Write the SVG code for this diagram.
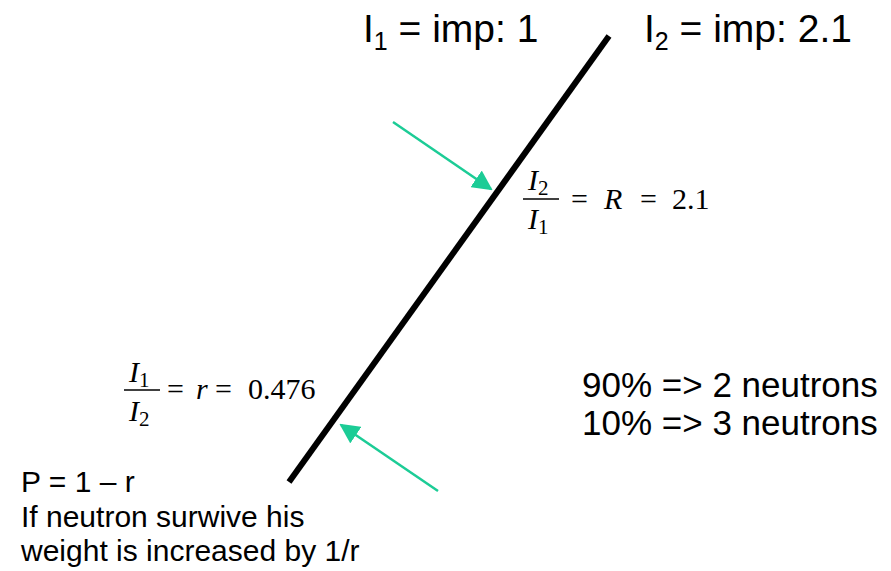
<svg xmlns="http://www.w3.org/2000/svg" width="891" height="571" viewBox="0 0 891 571">
<style>
.t{font-family:"Liberation Sans",Arial,sans-serif;fill:#000}
.m{font-family:"Liberation Serif","DejaVu Serif",serif;fill:#000;font-size:30px}
.i{font-style:italic}
.s{font-style:normal;font-size:21px}
.bar{stroke:#000;stroke-width:1.4}
.arr{stroke:#1ccc96;stroke-width:2.5;fill:none}
</style>
<defs>
<marker id="ah" viewBox="0 0 10 10" refX="9" refY="5" markerWidth="8" markerHeight="8" orient="auto">
<path d="M0,0 L10,5 L0,10 z" fill="#1ccc96"/>
</marker>
</defs>
<rect width="891" height="571" fill="#fff"/>
<g id="boundary">
<line x1="289" y1="482" x2="609" y2="36" stroke="#000" stroke-width="6"/>
</g>
<g id="label-I1">
<text class="t" x="363" y="42" font-size="39">I<tspan font-size="25" dy="8">1</tspan><tspan dy="-8"> = imp: 1</tspan></text>
</g>
<g id="label-I2">
<text class="t" x="644" y="42" font-size="39">I<tspan font-size="25" dy="8">2</tspan><tspan dy="-8"> = imp: 2.1</tspan></text>
</g>
<g id="connectors">
<line class="arr" x1="393" y1="122" x2="491" y2="189" marker-end="url(#ah)"/>
<line class="arr" x1="438" y1="491" x2="341" y2="425" marker-end="url(#ah)"/>
</g>
<g id="formula-R">
<text class="m i" x="528" y="190">I<tspan class="s" dy="5">2</tspan></text>
<line class="bar" x1="523" y1="199" x2="559" y2="199"/>
<text class="m i" x="528" y="229">I<tspan class="s" dy="5">1</tspan></text>
<text class="m" x="571" y="209">=</text>
<text class="m i" x="604" y="209">R</text>
<text class="m" x="640" y="209">=</text>
<text class="m" x="672" y="209">2.1</text>
</g>
<g id="formula-r">
<text class="m i" x="129" y="382">I<tspan class="s" dy="5">1</tspan></text>
<line class="bar" x1="124" y1="390" x2="160" y2="390"/>
<text class="m i" x="129" y="421">I<tspan class="s" dy="5">2</tspan></text>
<text class="m" x="167" y="399">=</text>
<text class="m i" x="196" y="399">r</text>
<text class="m" x="215" y="399">=</text>
<text class="m" x="248" y="399">0.476</text>
</g>
<g id="neutrons">
<text class="t" x="582" y="397" font-size="35">90% =&gt; 2 neutrons</text>
<text class="t" x="582" y="435" font-size="35">10% =&gt; 3 neutrons</text>
</g>
<g id="note">
<text class="t" x="21" y="492" font-size="30">P = 1 – r</text>
<text class="t" x="21" y="527" font-size="30">If neutron surwive his</text>
<text class="t" x="21" y="561" font-size="30">weight is increased by 1/r</text>
</g>
</svg>
